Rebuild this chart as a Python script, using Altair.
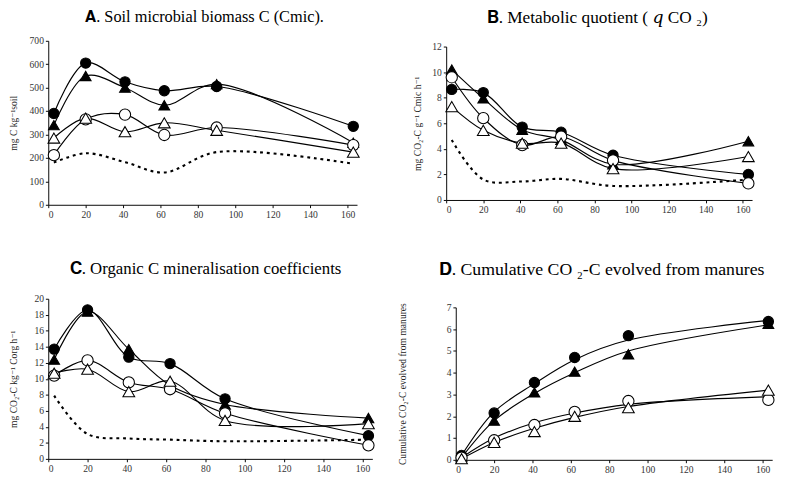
import altair as alt
import pandas as pd

FONT = "Times New Roman, Liberation Serif, DejaVu Serif, serif"

# sampling days (x)
days = [3, 20, 41, 62, 90, 163]

# four manure treatments: filled circle, filled triangle, open circle, open triangle
series = ["M1", "M2", "M3", "M4"]
series_shapes = ["circle", "triangle-up", "circle", "triangle-up"]
series_fills = ["black", "black", "white", "white"]

# A. Soil microbial biomass C
a_m1 = [390, 605, 525, 487, 505, 335]
a_m2 = [340, 550, 500, 425, 515, 265]
a_m3 = [212, 365, 385, 298, 330, 255]
a_m4 = [285, 370, 312, 350, 318, 225]
a_ctrl = [180, 220, 182, 138, 225, 175]

# B. Metabolic quotient
b_m1 = [8.65, 8.4, 5.7, 5.3, 3.5, 2.0]
b_m2 = [10.2, 7.95, 5.5, 4.7, 2.8, 4.6]
b_m3 = [9.6, 6.4, 4.3, 4.95, 3.1, 1.3]
b_m4 = [7.3, 5.45, 4.45, 4.45, 2.45, 3.4]
b_ctrl = [4.7, 1.6, 1.45, 1.65, 1.1, 1.6]

# C. Organic C mineralisation coefficients
c_m1 = [13.7, 18.6, 12.7, 11.9, 7.5, 2.9]
c_m2 = [12.4, 18.4, 13.7, 9.2, 6.8, 5.1]
c_m3 = [10.4, 12.3, 9.55, 8.7, 5.7, 1.7]
c_m4 = [10.7, 11.2, 8.4, 9.7, 4.8, 4.4]
c_ctrl = [7.9, 3.1, 2.55, 2.4, 2.2, 2.4]

# D. Cumulative CO2-C evolved from manures (measured points)
d_m1 = [0.2, 2.15, 3.55, 4.7, 5.7, 6.35]
d_m2 = [0.15, 1.8, 3.1, 4.05, 4.85, 6.25]
d_m3 = [0.1, 0.9, 1.6, 2.2, 2.7, 2.75]
d_m4 = [0.05, 0.8, 1.3, 2.0, 2.4, 3.2]
# D fitted curves
d_fit1 = [0.2, 2.2, 3.5, 4.6, 5.5, 6.4]
d_fit2 = [0.1, 1.8, 3.05, 4.0, 5.0, 6.2]
d_fit3 = [0.1, 1.0, 1.7, 2.15, 2.55, 2.9]
d_fit4 = [0.05, 0.8, 1.45, 1.95, 2.45, 3.2]

x_ticks = [0, 20, 40, 60, 80, 100, 120, 140, 160]


def long_df(value_lists):
    rows = []
    for name, vals in zip(series, value_lists):
        for d, v in zip(days, vals):
            rows.append({"day": d, "value": v, "series": name})
    return pd.DataFrame(rows)


def ctrl_df(vals):
    return pd.DataFrame({"day": days, "value": vals})


def panel(title, tsize_font, title_offset, title_dx, ytitle, ytitle_pad, ymax, ystep,
          pts, lines, ctrl, w, h, csize, tsize):
    xenc = alt.X("day:Q", scale=alt.Scale(domain=[0, 165], nice=False, zero=False),
                 axis=alt.Axis(values=x_ticks, title=None, grid=False, format="d"))
    yvals = [i * ystep for i in range(int(round(ymax / ystep)) + 1)]
    yenc = alt.Y("value:Q", scale=alt.Scale(domain=[0, ymax], nice=False),
                 axis=alt.Axis(values=yvals, title=ytitle, grid=False, titlePadding=ytitle_pad,
                               format="d"))
    layers = [
        alt.Chart(lines).mark_line(interpolate="catmull-rom", color="black", strokeWidth=1.2)
        .encode(x=xenc, y=yenc, detail="series:N")
    ]
    if ctrl is not None:
        layers.append(
            alt.Chart(ctrl).mark_line(interpolate="catmull-rom", color="black", strokeWidth=2.2,
                                      strokeDash=[3, 4])
            .encode(x=xenc, y=yenc)
        )
    layers.append(
        alt.Chart(pts).mark_point(filled=True, stroke="black", strokeWidth=1.1, opacity=1)
        .encode(
            x=xenc, y=yenc,
            shape=alt.Shape("series:N", scale=alt.Scale(domain=series, range=series_shapes), legend=None),
            fill=alt.Fill("series:N", scale=alt.Scale(domain=series, range=series_fills), legend=None),
            size=alt.Size("series:N", scale=alt.Scale(domain=series, range=[csize, tsize, csize, tsize]),
                          legend=None),
        )
    )
    return alt.layer(*layers).properties(
        width=w, height=h,
        title=alt.TitleParams(text=title, font=FONT, fontSize=tsize_font, fontWeight="normal",
                              color="black", anchor="middle", offset=title_offset, dx=title_dx),
    )


def spacer(w, h):
    return alt.Chart(pd.DataFrame({"s": [0]})).mark_point(opacity=0).encode(
        x=alt.value(0), y=alt.value(0)).properties(width=w, height=h)


pa = long_df([a_m1, a_m2, a_m3, a_m4])
pb = long_df([b_m1, b_m2, b_m3, b_m4])
pc = long_df([c_m1, c_m2, c_m3, c_m4])
pd_pts = long_df([d_m1, d_m2, d_m3, d_m4])
pd_fit = long_df([d_fit1, d_fit2, d_fit3, d_fit4])

A = panel("𝐀. Soil microbial biomass C (Cmic).", 17, 10.5, 2, "mg C kg⁻¹soil", 11, 700, 100,
          pa, pa, ctrl_df(a_ctrl), 322, 171, 115, 150)
B = panel("𝐁.  Metabolic quotient ( 𝑞 CO ₂)", 18, 15.5, -2, "mg CO₂-C g⁻¹ Cmic h⁻¹", 10, 12, 2,
          pb, pb, ctrl_df(b_ctrl), 319, 160, 100, 125)
C = panel("𝐂. Organic C mineralisation coefficients", 17.5, 17.5, -5, "mg CO₂-C kg⁻¹ Corg h⁻¹", 16,
          20, 2, pc, pc, ctrl_df(c_ctrl), 338, 167, 100, 125)
D = panel("𝐃.  Cumulative CO ₂-C evolved from manures", 18.5, 25.5, -13,
          "Cumulative CO₂-C evolved from manures", 40, 7, 1, pd_pts, pd_fit, None, 330, 159, 100, 125)

row1 = alt.hconcat(A, alt.vconcat(spacer(1, 1), B, spacing=5, bounds="flush"),
                   spacing=93, bounds="flush")
row2 = alt.hconcat(C, alt.vconcat(spacer(1, 1), D, spacing=8, bounds="flush"),
                   spacing=87, bounds="flush")

chart = alt.vconcat(row1, row2, spacing=41).properties(
    padding={"top": -10, "left": 0, "right": 0, "bottom": 0}, background="white"
).configure_view(stroke="transparent").configure_axis(
    labelFont=FONT, labelFontSize=10, labelColor="#333333", labelPadding=2,
    domainColor="black", tickColor="black", tickSize=3, domainWidth=1, tickWidth=1,
    titleFont=FONT, titleFontSize=10, titleFontWeight="normal", titleColor="#222222",
)

chart.save("out.html", embed_options={"renderer": "svg", "actions": False})
